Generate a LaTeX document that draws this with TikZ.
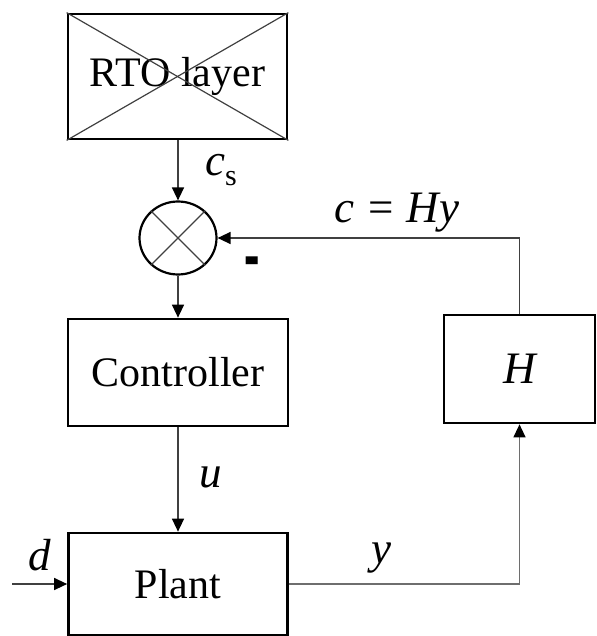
\documentclass[tikz,border=0pt]{standalone}
\usepackage{fontspec}
\setmainfont{Liberation Serif}
\usetikzlibrary{arrows.meta,shapes.geometric}
\definecolor{lineg}{RGB}{64,64,64}
\definecolor{lineyg}{RGB}{110,110,110}
\begin{document}
\begin{tikzpicture}[x=1pt,y=-1pt,
  blk/.style={draw=black,line width=2.7pt,rectangle,inner sep=0pt,font=\fontsize{42}{50}\selectfont},
  conn/.style={line width=1.3pt,draw=lineg,-{Triangle[length=13pt,width=12pt,color=black]}},
  crossline/.style={line width=1.2pt,draw=lineg},
  lbl/.style={font=\fontsize{45}{50}\selectfont\itshape,inner sep=0pt}]
\useasboundingbox (0,0) rectangle (596,636);
% blocks
\node[blk,minimum width=219pt,minimum height=125pt] (rto) at (177.5,76.5) {RTO layer};
\draw[crossline] (rto.north west) -- (rto.south east);
\draw[crossline] (rto.south west) -- (rto.north east);
\node[draw=black,line width=2.2pt,ellipse,inner sep=0pt,minimum width=77pt,minimum height=73pt] (sum) at (178,238) {};
\draw[crossline] (sum.45) -- (sum.225);
\draw[crossline] (sum.135) -- (sum.315);
\node[blk,minimum width=220pt,minimum height=107pt] (ctrl) at (178,372.5) {Controller};
\node[blk,minimum width=219pt,minimum height=102pt] (plant) at (178,584) {Plant};
\node[blk,minimum width=151pt,minimum height=108pt,font=\fontsize{45}{50}\selectfont\itshape] (hbox) at (519.5,369) {H};
% connectors
\coordinate (dstart) at (12,584);
\coordinate (ycorner) at (hbox.south |- plant.east);
\coordinate (ccorner) at (hbox.north |- sum.east);
\draw[conn] (rto.south -| sum.north) -- (sum.north);
\draw[conn] (sum.south) -- (ctrl.north -| sum.south);
\draw[conn] (ctrl.south -| sum.south) -- (plant.north -| sum.south);
\draw[conn] (dstart) -- (plant.west);
\draw[conn,draw=lineyg] (plant.east) -- (ycorner) -- (hbox.south);
\draw[conn] (hbox.north) -- (ccorner) -- (sum.east);
% labels
\node[lbl] (lcs) at (221,170) {c\raisebox{-0.22em}{\upshape\fontsize{30}{30}\selectfont s}};
\node[inner sep=0pt,font=\fontsize{42}{50}\selectfont\bfseries] (lminus) at (252,270) {\scalebox{1.1}[2.2]{-}};
\node[lbl] (lc) at (397,213) {c\hspace{0.3em}{\upshape =}\hspace{0.3em}Hy};
\node[lbl] (lu) at (211,477) {u};
\node[lbl] (ld) at (40,555) {d};
\node[lbl] (ly) at (381,558) {y};
\end{tikzpicture}
\end{document}
